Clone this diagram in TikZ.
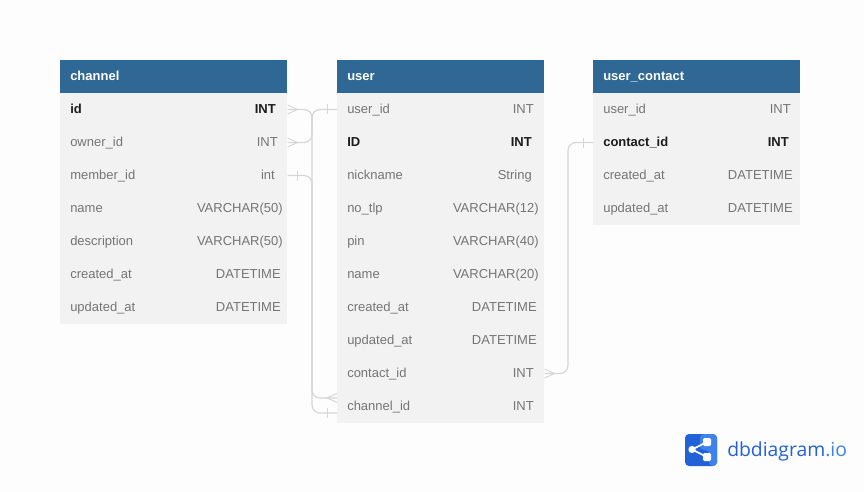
\documentclass[tikz,border=0pt]{standalone}
\usepackage{fontspec}
\setmainfont{Liberation Sans}
\newfontfamily\logofont{Open Sans}
\definecolor{pagebg}{HTML}{FDFDFD}
\definecolor{headbg}{HTML}{2F6795}
\definecolor{rowbg}{HTML}{F2F2F2}
\definecolor{fieldgrey}{HTML}{757575}
\definecolor{keyblack}{HTML}{1C1C1C}
\definecolor{linkgrey}{HTML}{D6D6D6}
\definecolor{logodark}{HTML}{2262D6}
\definecolor{logolight}{HTML}{3F82EE}
\tikzset{
	head/.style={fill=headbg, text=white, font=\fontsize{9.75}{12}\selectfont\bfseries, minimum height=24.75pt, inner xsep=7.5pt, inner ysep=0pt, align=left, text width=155.25pt, text height=8pt, text depth=1.5pt, anchor=west},
	row/.style={fill=rowbg, text=fieldgrey, font=\fontsize{9.75}{12}\selectfont, minimum height=24.75pt, inner xsep=7.5pt, inner ysep=0pt, align=left, text width=155.25pt, text height=8pt, text depth=1.5pt, anchor=west},
	keyrow/.style={row, text=keyblack, font=\fontsize{9.75}{12}\selectfont\bfseries},
	ftype/.style={text=fieldgrey, font=\fontsize{9.75}{12}\selectfont, inner sep=0pt, text height=8pt, text depth=1.5pt, anchor=east},
	keytype/.style={ftype, text=keyblack, font=\fontsize{9.75}{12}\selectfont\bfseries},
	narrow/.style={head/.append style={text width=140.25pt}, row/.append style={text width=140.25pt}},
	link/.style={draw=linkgrey, line width=0.9pt},
	elbow/.style={link, rounded corners=6pt},
	tick/.style={link, line width=0.7pt},
}
\begin{document}
\begin{tikzpicture}[x=0.75pt, y=-0.75pt]
	\useasboundingbox (0, 0) rectangle (864, 492);
	\fill[pagebg] (0, 0) rectangle (864, 492);

	% channel
	\node[head] (ch_head) at (60, 76.5) {channel};
	\node[keyrow] (ch_id) at (60, 109.5) {id};
	\node[row] (ch_owner) at (60, 142.5) {owner\_id};
	\node[row] (ch_member) at (60, 175.5) {member\_id};
	\node[row] (ch_name) at (60, 208.5) {name};
	\node[row] (ch_desc) at (60, 241.5) {description};
	\node[row] (ch_created) at (60, 274.5) {created\_at};
	\node[row] (ch_updated) at (60, 307.5) {updated\_at};
	\node[keytype] (ch_id_t) at (276, 109.5) {INT};
	\node[ftype] (ch_owner_t) at (278, 142.5) {INT};
	\node[ftype] (ch_member_t) at (275, 175.5) {int};
	\node[ftype] (ch_name_t) at (283, 208.5) {VARCHAR(50)};
	\node[ftype] (ch_desc_t) at (283, 241.5) {VARCHAR(50)};
	\node[ftype] (ch_created_t) at (281, 274.5) {DATETIME};
	\node[ftype] (ch_updated_t) at (281, 307.5) {DATETIME};

	% user
	\begin{scope}[narrow]
	\node[head] (us_head) at (337, 76.5) {user};
	\node[row] (us_userid) at (337, 109.5) {user\_id};
	\node[keyrow] (us_id) at (337, 142.5) {ID};
	\node[row] (us_nick) at (337, 175.5) {nickname};
	\node[row] (us_tlp) at (337, 208.5) {no\_tlp};
	\node[row] (us_pin) at (337, 241.5) {pin};
	\node[row] (us_name) at (337, 274.5) {name};
	\node[row] (us_created) at (337, 307.5) {created\_at};
	\node[row] (us_updated) at (337, 340.5) {updated\_at};
	\node[row] (us_contact) at (337, 373.5) {contact\_id};
	\node[row] (us_channel) at (337, 406.5) {channel\_id};
	\end{scope}
	\node[ftype] (us_userid_t) at (534, 109.5) {INT};
	\node[keytype] (us_id_t) at (532, 142.5) {INT};
	\node[ftype] (us_nick_t) at (532, 175.5) {String};
	\node[ftype] (us_tlp_t) at (539, 208.5) {VARCHAR(12)};
	\node[ftype] (us_pin_t) at (539, 241.5) {VARCHAR(40)};
	\node[ftype] (us_name_t) at (539, 274.5) {VARCHAR(20)};
	\node[ftype] (us_created_t) at (537, 307.5) {DATETIME};
	\node[ftype] (us_updated_t) at (537, 340.5) {DATETIME};
	\node[ftype] (us_contact_t) at (534, 373.5) {INT};
	\node[ftype] (us_channel_t) at (534, 406.5) {INT};

	% user_contact
	\begin{scope}[narrow]
	\node[head] (uc_head) at (593, 76.5) {user\_contact};
	\node[row] (uc_userid) at (593, 109.5) {user\_id};
	\node[keyrow] (uc_contact) at (593, 142.5) {contact\_id};
	\node[row] (uc_created) at (593, 175.5) {created\_at};
	\node[row] (uc_updated) at (593, 208.5) {updated\_at};
	\end{scope}
	\node[ftype] (uc_userid_t) at (791, 109.5) {INT};
	\node[keytype] (uc_contact_t) at (789, 142.5) {INT};
	\node[ftype] (uc_created_t) at (793, 175.5) {DATETIME};
	\node[ftype] (uc_updated_t) at (793, 208.5) {DATETIME};

	% links
	\coordinate (busa) at (312, 0);
	\coordinate (busb) at (568, 0);
	\coordinate (us_channel_up) at (337, 398);
	\coordinate (us_channel_dn) at (337, 413);
	\draw[elbow] (ch_owner.east) -| (busa |- us_userid.west) -- (us_userid.west);
	\draw[elbow] (ch_id.east) -| (busa |- us_channel_dn) -- (us_channel_dn);
	\draw[elbow] (ch_member.east) -| (busa |- us_channel_up) -- (us_channel_up);
	\draw[elbow] (us_contact.east) -| (busb |- uc_contact.west) -- (uc_contact.west);

	% crow feet
	\draw[tick] (ch_id.east) ++(0, -4.5) -- ++(10, 4.5) -- ++(-10, 4.5);
	\draw[tick] (ch_owner.east) ++(0, -4.5) -- ++(10, 4.5) -- ++(-10, 4.5);
	\draw[tick] (us_contact.east) ++(0, -4.5) -- ++(10, 4.5) -- ++(-10, 4.5);
	\draw[tick] (us_channel_up) ++(0, -4.5) -- ++(-10, 4.5) -- ++(10, 4.5);

	% bars
	\draw[tick] (us_userid.west) ++(-10, -5) -- ++(0, 10);
	\draw[tick] (ch_member.east) ++(10, -5) -- ++(0, 10);
	\draw[tick] (us_channel_dn) ++(-10, -5) -- ++(0, 10);
	\draw[tick] (uc_contact.west) ++(-10, -5) -- ++(0, 10);

	% logo
	\fill[logodark, rounded corners=3pt] (685, 434) rectangle (717, 466);
	\fill[logolight, rounded corners=3pt] (700, 434) -- (717, 434) -- (717, 466) -- (709, 466) -- (709, 450) -- (700, 450) -- cycle;
	\draw[white, line width=1.2pt] (692, 449.5) -- (707, 442) (692, 449.5) -- (707, 457);
	\fill[white] (692, 449.5) circle (3.6);
	\fill[white, rounded corners=1pt] (703, 438) rectangle (711, 446);
	\fill[white, rounded corners=1pt] (703, 453) rectangle (711, 461);
	\node[inner sep=0pt, anchor=west, font=\logofont\fontsize{14.5}{16}\selectfont, text=logodark] (logo_text) at (727, 451) {dbdiagram\textcolor{logolight}{.io}};
\end{tikzpicture}
\end{document}
